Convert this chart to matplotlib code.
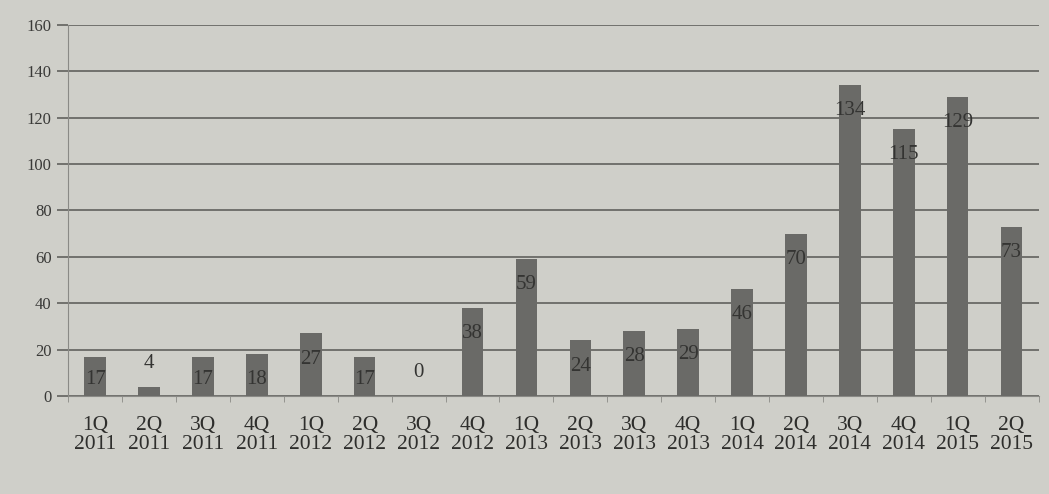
import matplotlib.pyplot as plt
import numpy as np

quarters = ["1Q", "2Q", "3Q", "4Q", "1Q", "2Q", "3Q", "4Q", "1Q", "2Q",
            "3Q", "4Q", "1Q", "2Q", "3Q", "4Q", "1Q", "2Q"]
years = ["2011", "2011", "2011", "2011", "2012", "2012", "2012", "2012", "2013", "2013",
         "2013", "2013", "2014", "2014", "2014", "2014", "2015", "2015"]
values = [17, 4, 17, 18, 27, 17, 0, 38, 59, 24, 28, 29, 46, 70, 134, 115, 129, 73]

plt.rcParams['font.family'] = ['Liberation Serif', 'DejaVu Serif']

bg = "#cfcfc9"
fig = plt.figure(figsize=(10.49, 4.94), dpi=100, facecolor=bg)
ax = fig.add_axes([0.065, 0.198, 0.925, 0.752], facecolor=bg)

x = np.arange(len(values))
ax.bar(x, values, width=0.4, color="#6a6a67", zorder=3)

for xi, v in zip(x, values):
    if v < 10:
        y = v + 10
    else:
        y = max(v - 11, 7)
    ax.text(xi, y, str(v), ha="center", va="center", fontsize=15,
            color="#343432", zorder=4)

ax.set_ylim(0, 160)
ax.set_xlim(-0.5, len(values) - 0.5)
ax.set_yticks(range(0, 161, 20))
ax.yaxis.grid(True, color="#6a6a66", linewidth=1.3, zorder=0)
ax.set_xticks(x)
ax.set_xticklabels([q + "\n" + yr for q, yr in zip(quarters, years)],
                   fontsize=15.5, color="#2e2e2c", linespacing=1.0)
ax.tick_params(axis="x", length=0, pad=14)
ax.tick_params(axis="y", length=8, width=1.3, color="#6a6a66",
               labelsize=12, colors="#3a3a38", pad=4)
ax.tick_params(axis="y", colors="#6a6a66", labelcolor="#3a3a38")
ax.set_xticks(np.arange(-0.5, len(values), 1), minor=True)
ax.tick_params(axis="x", which="minor", length=4, color="#8a8a86")

for s in ["top", "right"]:
    ax.spines[s].set_visible(False)
ax.spines["left"].set_color("#8a8a86")
ax.spines["bottom"].set_color("#8a8a86")

fig.savefig("out.png", dpi=100, facecolor=bg)
